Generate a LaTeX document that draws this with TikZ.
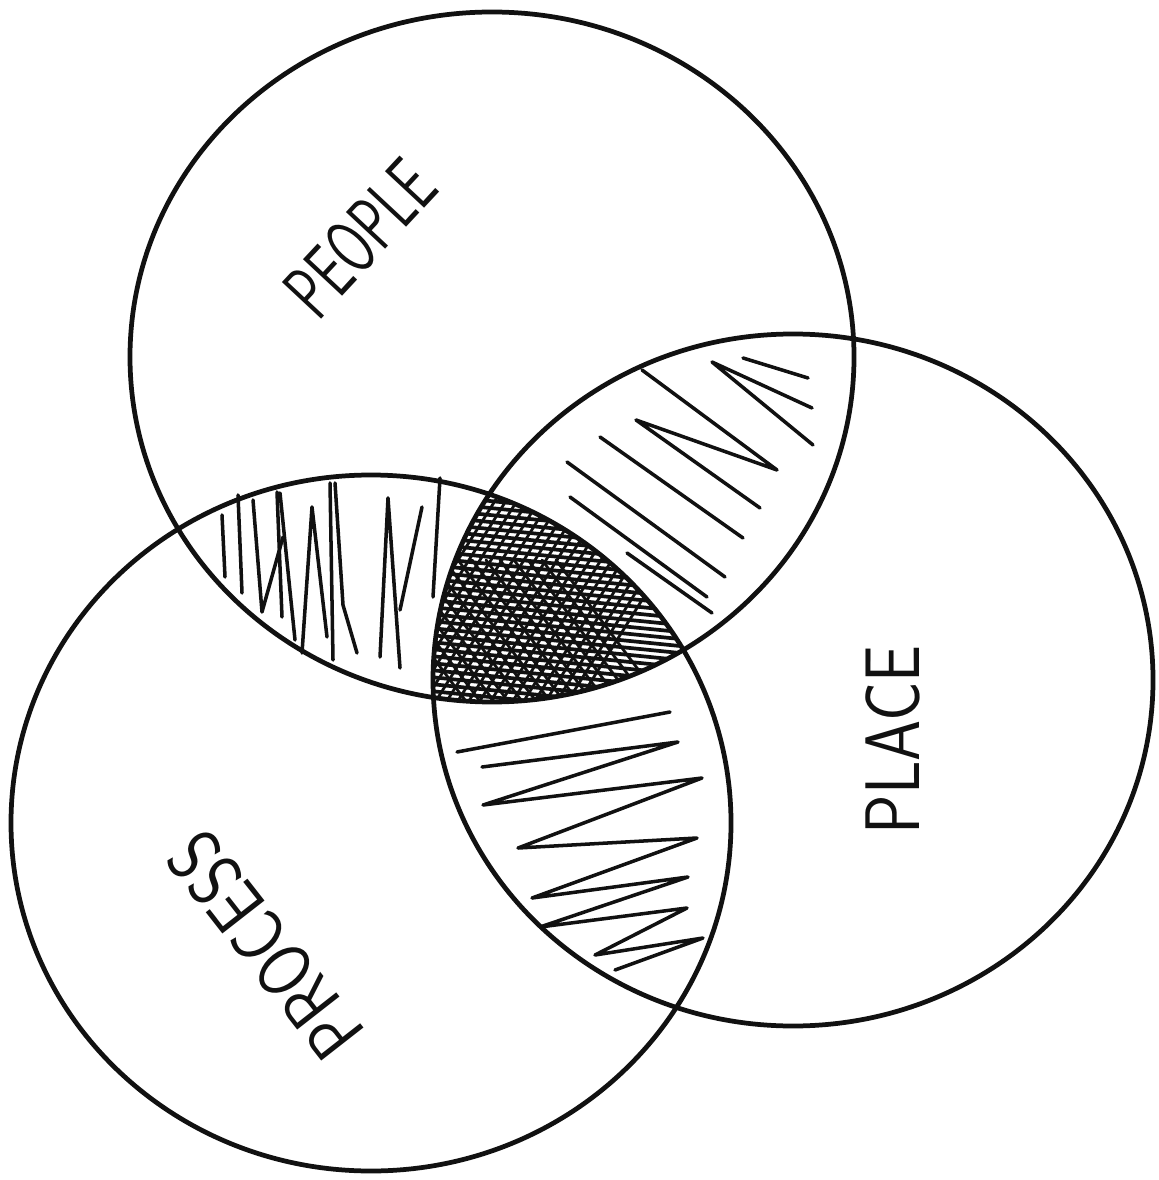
\documentclass[tikz,border=0pt]{standalone}
\usepackage{graphicx}
\definecolor{ink}{HTML}{111111}
\newcommand{\hand}[2]{\scalebox{#1}[1]{#2}}

\begin{document}
\begin{tikzpicture}[x=0.01cm,y=-0.01cm,
    rim/.style={draw=ink,line width=1.35pt},
    hatch/.style={ink,line width=1pt,line cap=round,line join=round},
    dense/.style={ink,line width=1.05pt,line cap=round},
    word/.style={ink,font=\sffamily\fontsize{22}{22}\selectfont,inner sep=0pt}]
    \useasboundingbox (0,0) rectangle (1158,1180);
    \coordinate (cpeople) at (492,357);
    \coordinate (cplace) at (793,680);
    \coordinate (cprocess) at (371,823);
    \begin{scope}
      \clip (cpeople) ellipse [x radius=362,y radius=345];
      \clip (cplace) ellipse [x radius=360,y radius=346];
      \clip (cprocess) ellipse [x radius=360,y radius=348];
      \foreach \y in {466,473,...,720} \draw[dense] (420,\y) -- (700,\y+28);
      \foreach \x in {420,431,...,720} \draw[dense,line width=0.8pt] (\x,480) -- (\x-150,720);
      \foreach \x in {360,374,...,560} \draw[dense,line width=0.8pt] (\x,560) -- (\x+120,720);
    \end{scope}
    \draw[hatch] (222,515) -- (225,577);
    \draw[hatch] (238,495) -- (242,593);
    \draw[hatch] (253,500) -- (262,612) -- (283,537);
    \draw[hatch] (277,492) -- (282,617);
    \draw[hatch] (280,493) -- (295,640);
    \draw[hatch] (302,653) -- (312,507) -- (327,637);
    \draw[hatch] (330,483) -- (333,660);
    \draw[hatch] (335,483) -- (343,605) -- (357,653);
    \draw[hatch] (380,657) -- (388,498) -- (400,668);
    \draw[hatch] (400,610) -- (422,507);
    \draw[hatch] (440,478) -- (433,597);
    \draw[hatch] (743,358) -- (808,378);
    \draw[hatch] (812,408) -- (712,362) -- (813,445);
    \draw[hatch] (642,370) -- (777,470) -- (636,420) -- (760,508);
    \draw[hatch] (600,437) -- (743,538);
    \draw[hatch] (567,462) -- (725,577);
    \draw[hatch] (570,497) -- (707,597);
    \draw[hatch] (627,553) -- (712,613);
    \draw[hatch] (457,752) -- (670,712);
    \draw[hatch] (482,767) -- (678,742) -- (483,805) -- (702,778) -- (518,848) -- (697,838)
      -- (532,898) -- (688,877) -- (540,927) -- (687,908) -- (595,955) -- (703,938) -- (615,970);
    \draw[rim] (cpeople) ellipse [x radius=362,y radius=345];
    \draw[rim] (cplace) ellipse [x radius=360,y radius=346];
    \draw[rim] (cprocess) ellipse [x radius=360,y radius=348];
    \node[word,rotate=47] (people) at (360,238) {\hand{0.66}{PEOPLE}};
    \node[word,rotate=90] (place) at (893,740) {\hand{0.85}{PLACE}};
    \node[word,rotate=128] (process) at (265,945) {\hand{0.83}{PROCESS}};
  \end{tikzpicture}
\end{document}
